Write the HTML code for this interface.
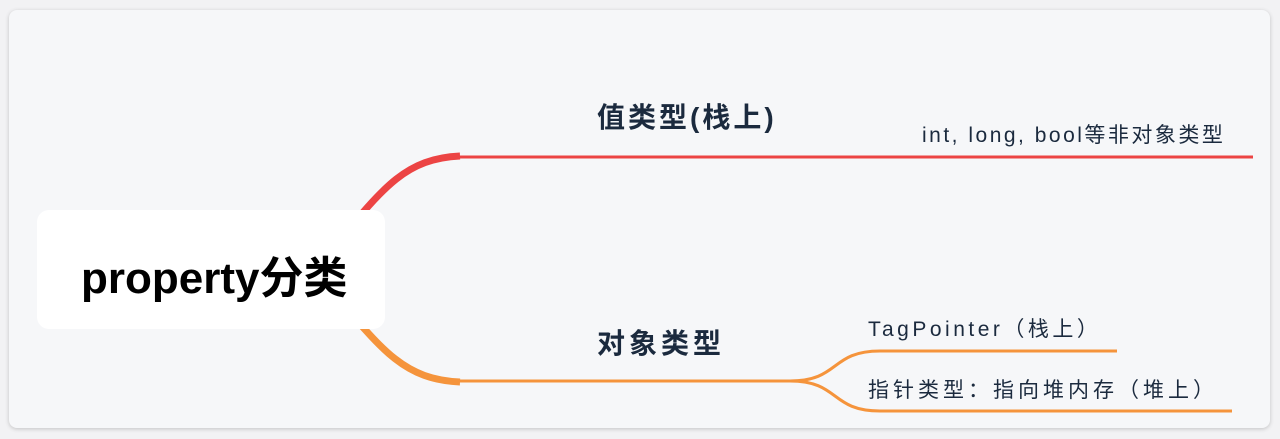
<!DOCTYPE html>
<html><head><meta charset="utf-8"><style>
html,body{margin:0;padding:0;width:1280px;height:439px;background:#f2f2f4;overflow:hidden}
.card{position:absolute;left:9px;top:10px;width:1261px;height:418px;background:#f6f7f9;border-radius:8px;box-shadow:0 1px 4px rgba(0,0,0,0.2)}
.t{position:absolute;white-space:nowrap;font-family:"Liberation Sans","Noto Sans CJK SC",sans-serif;color:#1b2a3e}
.root{position:absolute;left:37px;top:210px;width:348px;height:119px;background:#fff;border-radius:12px}
</style></head><body>
<div class="card"></div>
<svg width="1280" height="439" style="position:absolute;left:0;top:0">
<path d="M315 270 C380 190 405 157 460 157 L1253 157" fill="none" stroke="#ec4444" stroke-width="3"/>
<path d="M315 270 C380 192 400 159 460 156" fill="none" stroke="#ec4444" stroke-width="7"/>
<path d="M315 270 C380 350 405 381 460 381 L790 381 C840 381 830 351 880 351 L1117 351 M790 381 C840 381 830 411 880 411 L1232 411" fill="none" stroke="#f5943c" stroke-width="3"/>
<path d="M315 270 C380 348 400 379 460 382" fill="none" stroke="#f5943c" stroke-width="7"/>
</svg>
<div class="root"></div>
<div class="t" style="left:81px;top:242px;font-size:44px;font-weight:bold;color:#000">property分类</div>
<div class="t" style="left:597px;top:96px;font-size:28px;font-weight:bold;letter-spacing:3px">值类型(栈上)</div>
<div class="t" style="left:922px;top:119px;font-size:21px;letter-spacing:2.5px">int, long, bool等非对象类型</div>
<div class="t" style="left:597px;top:322px;font-size:28px;font-weight:bold;letter-spacing:4px">对象类型</div>
<div class="t" style="left:868px;top:313px;font-size:21px;letter-spacing:3.5px">TagPointer（栈上）</div>
<div class="t" style="left:868px;top:374px;font-size:21px;letter-spacing:4px">指针类型：指向堆内存（堆上）</div>
</body></html>
